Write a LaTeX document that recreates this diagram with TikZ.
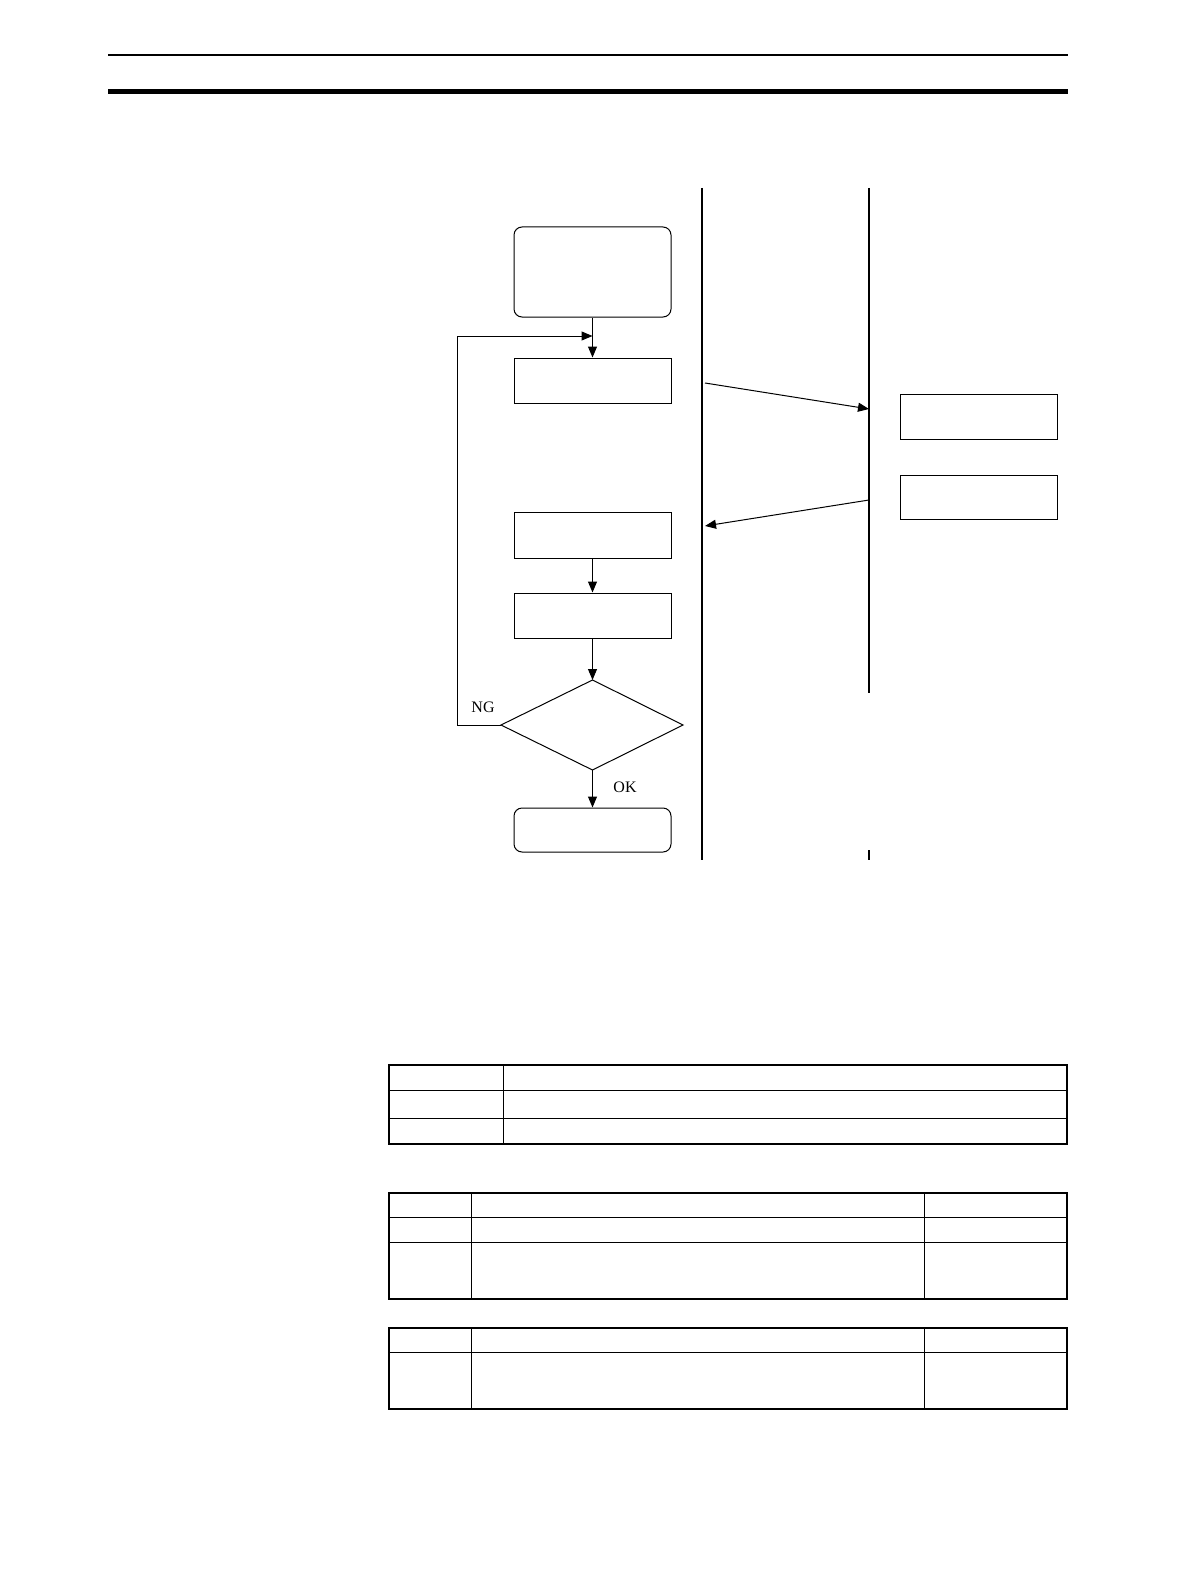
\documentclass[tikz,border=0pt]{standalone}
\usepackage{fontspec}
\setmainfont{Liberation Serif}
\usetikzlibrary{arrows.meta}
\begin{document}
\begin{tikzpicture}[x=1pt,y=-1pt,line width=1pt,
  box/.style={draw,rectangle,inner sep=0pt},
  arr/.style={-{Triangle[length=11pt,width=9pt]},line width=1pt},
  lane/.style={line width=1.2pt},
  tbl/.style={line width=1.8pt},
  lbl/.style={font=\fontsize{16}{18}\selectfont}]
\useasboundingbox (0,0) rectangle (1190,1586);
\draw[line width=1.5pt] (108,55) -- (1068,55);
\draw[line width=5pt] (108,92) -- (1068,92);
% lanes
\draw[lane] (702,188) -- (702,860);
\draw[lane] (869,188) -- (869,693);
\draw[lane] (869,850) -- (869,860);
% nodes
\draw[rounded corners=8pt] (514,227) rectangle (671,317);
\node[draw=none,minimum width=157pt,minimum height=90pt] (n1) at (592.5,272) {};
\node[box,minimum width=157pt,minimum height=45pt] (n2) at (592.5,380.5) {};
\node[box,minimum width=157pt,minimum height=46pt] (n3) at (592.5,535) {};
\node[box,minimum width=157pt,minimum height=45pt] (n4) at (592.5,615.5) {};
\coordinate (dt) at (592.5,680); \coordinate (db) at (592.5,770);
\coordinate (dl) at (501,725); \coordinate (dr) at (683,725);
\draw (dt) -- (dr) -- (db) -- (dl) -- cycle;
\draw[rounded corners=8pt] (514,808) rectangle (671,852);
\node[draw=none,minimum width=157pt,minimum height=44pt] (n5) at (592.5,830) {};
\node[box,minimum width=157pt,minimum height=45pt] (r1) at (978.5,416.5) {};
\node[box,minimum width=157pt,minimum height=44pt] (r2) at (978.5,497) {};
% arrows
\draw[arr] (n1.south) -- (n2.north);
\draw[arr] (n3.south) -- (n4.north);
\draw[arr] (n4.south) -- (dt);
\draw[arr] (db) -- (n5.north);
\coordinate (lp) at (592.5,336);
\draw[arr] (dl) -- (457,725) -- (457,336) -- (lp);
\coordinate (a1) at (705,383); \coordinate (a2) at (869,409);
\coordinate (b1) at (869,500); \coordinate (b2) at (705,526);
\draw[arr] (a1) -- (a2);
\draw[arr] (b1) -- (b2);
\node[lbl] (ng) at (483,707) {NG};
\node[lbl] (ok) at (625,787) {OK};
% tables
\draw[tbl] (389,1065) rectangle (1067,1144);
\draw[line width=1pt] (389,1090) -- (1067,1090) (389,1118) -- (1067,1118) (503,1065) -- (503,1144);
\draw[tbl] (389,1193) rectangle (1067,1299);
\draw[line width=1pt] (389,1217) -- (1067,1217) (389,1242) -- (1067,1242) (471,1193) -- (471,1299) (924,1193) -- (924,1299);
\draw[tbl] (389,1328) rectangle (1067,1409);
\draw[line width=1pt] (389,1352) -- (1067,1352) (471,1328) -- (471,1409) (924,1328) -- (924,1409);
\end{tikzpicture}
\end{document}
